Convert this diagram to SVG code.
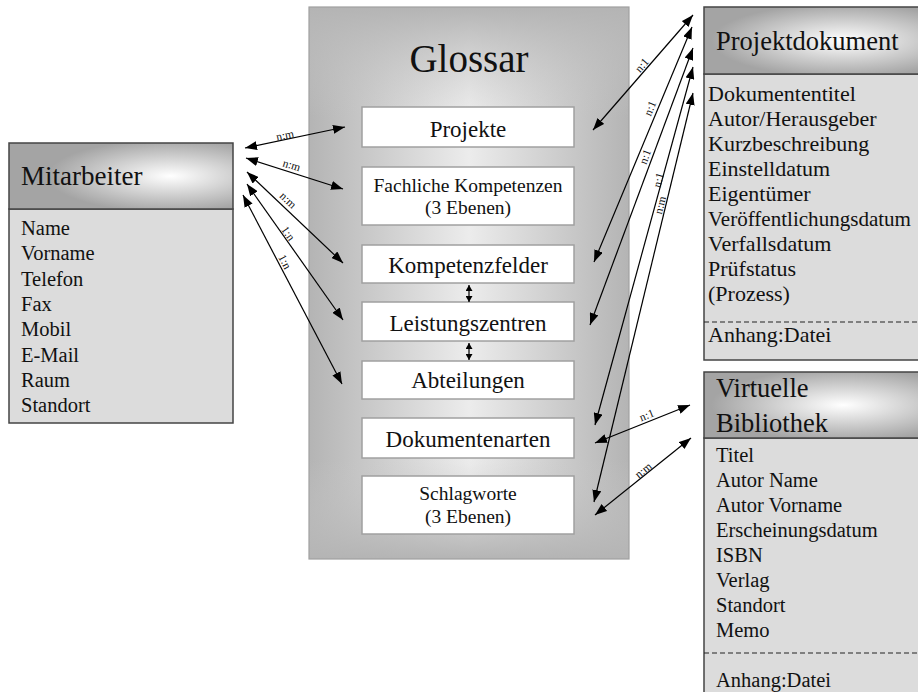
<svg xmlns="http://www.w3.org/2000/svg" width="918" height="692" viewBox="0 0 918 692">
  <defs>
    <!-- rectangular shading for the glossary container: horizontal ramp plus top/bottom edge fade -->
    <linearGradient id="glossH" x1="0" y1="0" x2="1" y2="0">
      <stop offset="0" stop-color="#b4b4b4"/>
      <stop offset="0.5" stop-color="#ececec"/>
      <stop offset="1" stop-color="#b4b4b4"/>
    </linearGradient>
    <linearGradient id="glossV" x1="0" y1="0" x2="0" y2="1">
      <stop offset="0" stop-color="#b4b4b4" stop-opacity="1"/>
      <stop offset="0.2" stop-color="#c8c8c8" stop-opacity="0"/>
      <stop offset="0.82" stop-color="#c8c8c8" stop-opacity="0"/>
      <stop offset="1" stop-color="#b4b4b4" stop-opacity="1"/>
    </linearGradient>
    <radialGradient id="headGradA" cx="0.72" cy="0.5" r="0.55">
      <stop offset="0" stop-color="#ffffff"/>
      <stop offset="1" stop-color="#a4a4a4"/>
    </radialGradient>
    <radialGradient id="headGradB" cx="0.58" cy="0.5" r="0.55">
      <stop offset="0" stop-color="#ffffff"/>
      <stop offset="1" stop-color="#a4a4a4"/>
    </radialGradient>
    <marker id="arr" viewBox="0 0 12 9" refX="12" refY="4.5" markerWidth="12" markerHeight="9" markerUnits="userSpaceOnUse" orient="auto-start-reverse">
      <path d="M0,0 L12,4.5 L0,9 z" fill="#000"/>
    </marker>
    <marker id="arrS" viewBox="0 0 6 7" refX="6" refY="3.5" markerWidth="6" markerHeight="7" markerUnits="userSpaceOnUse" orient="auto-start-reverse">
      <path d="M0,0 L6,3.5 L0,7 z" fill="#000"/>
    </marker>
  </defs>
  <style>
    text { font-family: "Liberation Serif", "Times New Roman", serif; fill: #111; }
    .head { font-size: 27px; }
    .attr { font-size: 20.5px; }
    .attrL { font-size: 22px; }
    .big { font-size: 23px; text-anchor: middle; }
    .small { font-size: 19.5px; text-anchor: middle; }
    .title { font-size: 39px; text-anchor: middle; }
    .lbl { font-size: 11.5px; text-anchor: middle; dominant-baseline: central; }
    .hdr { stroke: #444; stroke-width: 1.5; }
    .body { fill: #dcdcdc; stroke: #444; stroke-width: 1.5; }
    .item { fill: #ffffff; stroke: #a0a0a0; stroke-width: 1.5; }
    .dash { stroke: #222; stroke-width: 1.2; stroke-dasharray: 5 3; }
    .conn line { stroke: #000; stroke-width: 1.2; marker-start: url(#arr); marker-end: url(#arr); }
    .conn line.s { marker-start: url(#arrS); marker-end: url(#arrS); }
  </style>

  <!-- Glossar container -->
  <g id="glossar">
    <rect x="309" y="7" width="320" height="552" fill="url(#glossH)"/>
    <rect x="309" y="7" width="320" height="552" fill="url(#glossV)" stroke="#a0a0a0" stroke-width="1.2"/>
    <text class="title" x="469" y="72">Glossar</text>
  </g>
  <g id="projekte">
    <rect class="item" x="362" y="107" width="212" height="40"/>
    <text class="big" x="468" y="137">Projekte</text>
  </g>
  <g id="fachliche-kompetenzen">
    <rect class="item" x="362" y="167" width="212" height="58"/>
    <text class="small" x="468" y="192">Fachliche Kompetenzen</text>
    <text class="small" x="468" y="214">(3 Ebenen)</text>
  </g>
  <g id="kompetenzfelder">
    <rect class="item" x="362" y="245" width="212" height="38"/>
    <text class="big" x="468" y="273">Kompetenzfelder</text>
  </g>
  <g id="leistungszentren">
    <rect class="item" x="362" y="302" width="212" height="39"/>
    <text class="big" x="468" y="331">Leistungszentren</text>
  </g>
  <g id="abteilungen">
    <rect class="item" x="362" y="361" width="212" height="38"/>
    <text class="big" x="468" y="388">Abteilungen</text>
  </g>
  <g id="dokumentenarten">
    <rect class="item" x="362" y="418" width="212" height="40"/>
    <text class="big" x="468" y="447">Dokumentenarten</text>
  </g>
  <g id="schlagworte">
    <rect class="item" x="362" y="476" width="212" height="58"/>
    <text class="small" x="468" y="500">Schlagworte</text>
    <text class="small" x="468" y="523">(3 Ebenen)</text>
  </g>

  <!-- Mitarbeiter entity -->
  <g id="mitarbeiter">
    <rect class="body" x="9" y="209" width="224" height="214"/>
    <rect class="hdr" x="9" y="143" width="224" height="66" fill="url(#headGradA)"/>
    <text class="head" x="21" y="185">Mitarbeiter</text>
    <text class="attr" x="21" y="235">Name</text>
    <text class="attr" x="21" y="260">Vorname</text>
    <text class="attr" x="21" y="286">Telefon</text>
    <text class="attr" x="21" y="311">Fax</text>
    <text class="attr" x="21" y="336">Mobil</text>
    <text class="attr" x="21" y="362">E-Mail</text>
    <text class="attr" x="21" y="387">Raum</text>
    <text class="attr" x="21" y="412">Standort</text>
  </g>

  <!-- Projektdokument entity -->
  <g id="projektdokument">
    <rect class="body" x="704" y="74" width="240" height="286"/>
    <rect class="hdr" x="704" y="7" width="240" height="67" fill="url(#headGradB)"/>
    <text class="head" x="716" y="50" style="font-size:26.5px">Projektdokument</text>
    <text class="attrL" x="708" y="101">Dokumententitel</text>
    <text class="attrL" x="708" y="126">Autor/Herausgeber</text>
    <text class="attrL" x="708" y="151">Kurzbeschreibung</text>
    <text class="attrL" x="708" y="176">Einstelldatum</text>
    <text class="attrL" x="708" y="201">Eigentümer</text>
    <text class="attrL" x="708" y="226" textLength="203" lengthAdjust="spacingAndGlyphs">Veröffentlichungsdatum</text>
    <text class="attrL" x="708" y="251">Verfallsdatum</text>
    <text class="attrL" x="708" y="276">Prüfstatus</text>
    <text class="attrL" x="708" y="301">(Prozess)</text>
    <line class="dash" x1="704" y1="322" x2="918" y2="322"/>
    <text class="attrL" x="708" y="342">Anhang:Datei</text>
  </g>

  <!-- Virtuelle Bibliothek entity -->
  <g id="virtuelle-bibliothek">
    <rect class="body" x="704" y="438" width="240" height="270"/>
    <rect class="hdr" x="704" y="372" width="240" height="66" fill="url(#headGradB)"/>
    <text class="head" x="716" y="397" style="font-size:26.5px">Virtuelle</text>
    <text class="head" x="716" y="432" style="font-size:26.5px">Bibliothek</text>
    <text class="attr" x="716" y="462">Titel</text>
    <text class="attr" x="716" y="487">Autor Name</text>
    <text class="attr" x="716" y="512">Autor Vorname</text>
    <text class="attr" x="716" y="537">Erscheinungsdatum</text>
    <text class="attr" x="716" y="562">ISBN</text>
    <text class="attr" x="716" y="587">Verlag</text>
    <text class="attr" x="716" y="612">Standort</text>
    <text class="attr" x="716" y="637">Memo</text>
    <line class="dash" x1="704" y1="653" x2="918" y2="653"/>
    <text class="attr" x="716" y="687">Anhang:Datei</text>
  </g>

  <!-- Connectors -->
  <g id="connectors" class="conn">
    <!-- Mitarbeiter to glossary -->
    <line x1="245" y1="148" x2="345" y2="127"/>
    <line x1="246" y1="158" x2="343" y2="189"/>
    <line x1="247" y1="172" x2="343" y2="263"/>
    <line x1="247" y1="184" x2="343" y2="320"/>
    <line x1="243" y1="195" x2="342" y2="384"/>
    <!-- within glossary -->
    <line class="s" x1="469" y1="285" x2="469" y2="302"/>
    <line class="s" x1="469" y1="343" x2="469" y2="360"/>
    <!-- Projektdokument to glossary -->
    <line x1="693" y1="15" x2="593" y2="130"/>
    <line x1="692" y1="27" x2="594" y2="262"/>
    <line x1="693" y1="48" x2="590" y2="325"/>
    <line x1="693" y1="67" x2="595" y2="425"/>
    <line x1="693" y1="93" x2="594" y2="502"/>
    <!-- Virtuelle Bibliothek to glossary -->
    <line x1="690" y1="405" x2="595" y2="443"/>
    <line x1="691" y1="438" x2="595" y2="515"/>
  </g>

  <!-- Cardinality labels -->
  <g id="labels">
    <text class="lbl" x="285" y="135" transform="rotate(-12.2 285 135)">n:m</text>
    <text class="lbl" x="291.7" y="165" transform="rotate(17.2 291.7 165)">n:m</text>
    <text class="lbl" x="288.3" y="200" transform="rotate(43.5 288.3 200)">n:m</text>
    <text class="lbl" x="288.3" y="233.3" transform="rotate(54.6 288.3 233.3)">1:n</text>
    <text class="lbl" x="285" y="261.7" transform="rotate(62.5 285 261.7)">1:n</text>
    <text class="lbl" x="641.7" y="65" transform="rotate(-49 641.7 65)">n:1</text>
    <text class="lbl" x="650" y="108.3" transform="rotate(-67.4 650 108.3)">n:1</text>
    <text class="lbl" x="645" y="156.7" transform="rotate(-69.6 645 156.7)">n:1</text>
    <text class="lbl" x="658.3" y="180" transform="rotate(-74.7 658.3 180)">n:1</text>
    <text class="lbl" x="660" y="205" transform="rotate(-76.4 660 205)">n:m</text>
    <text class="lbl" x="646.7" y="415" transform="rotate(-21.8 646.7 415)">n:1</text>
    <text class="lbl" x="643.3" y="470" transform="rotate(-38.7 643.3 470)">n:m</text>
  </g>
</svg>
